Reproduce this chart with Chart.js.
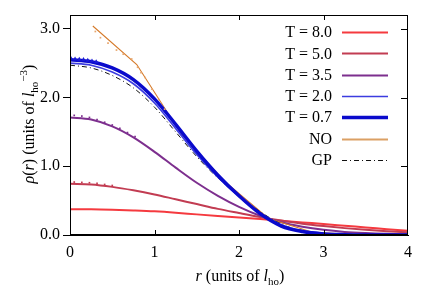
<!DOCTYPE html>
<html><head><meta charset="utf-8">
<script src="https://cdn.jsdelivr.net/npm/chart.js@4.4.1/dist/chart.umd.min.js"></script>
<style>html,body{margin:0;padding:0;background:#fff}canvas{display:block}</style>
</head><body>
<canvas id="c" width="436" height="305"></canvas>
<script>
// ---- data ----
const rGrid = [0,0.25,0.5,0.75,1.0,1.25,1.5,1.75,2.0,2.25,2.5,2.75,3.0,3.25,3.5,3.75,4.0];
const rhoT80 = [0.375,0.374,0.368,0.358,0.345,0.325,0.300,0.277,0.255,0.232,0.207,0.183,0.160,0.135,0.110,0.085,0.060];
const rhoT50 = [0.745,0.735,0.700,0.650,0.590,0.520,0.450,0.380,0.320,0.262,0.210,0.165,0.130,0.100,0.075,0.055,0.040];
const rhoT35 = [1.71,1.68,1.58,1.42,1.21,0.98,0.76,0.57,0.41,0.28,0.185,0.12,0.075,0.045,0.028,0.017,0.010];
const rhoT20 = [2.50,2.47,2.37,2.20,1.92,1.55,1.17,0.84,0.56,0.32,0.15,0.065,0.025,0.010,0.004,0.002,0.001];
const rhoT07 = [2.55,2.52,2.43,2.26,1.98,1.61,1.22,0.87,0.57,0.31,0.13,0.05,0.015,0.005,0.001,0.0,0.0];
const rhoGP  = [2.47,2.43,2.32,2.14,1.86,1.50,1.14,0.83,0.57,0.34,0.16,0.06,0.02,0.005,0.001,0.0,0.0];
const rNO   = [0.27,0.79,1.31,1.83,2.35,2.87,3.39,3.91];
const rhoNO = [3.04,2.48,1.48,0.78,0.24,0.04,0.005,0.0];
// simulation points (small markers)
const simNOr   = [0.30,0.36,0.45,0.55,0.63,0.73,0.80,0.84,0.89,0.97,1.05,1.12];
const simNOrho = [2.96,2.87,2.79,2.69,2.63,2.56,2.44,2.36,2.29,2.12,1.97,1.83];
const simT35r   = [0.05,0.14,0.23,0.32,0.41,0.50,0.59,0.68,0.77];
const simT35rho = [1.74,1.73,1.71,1.68,1.64,1.60,1.55,1.49,1.43];
const simT50r   = [0.05,0.14,0.23,0.32,0.41,0.50];
const simT50rho = [0.77,0.765,0.76,0.75,0.735,0.72];
const simT07r   = [0.01,0.06,0.11,0.16,0.21,0.26,0.31];
const simT07rho = [2.57,2.56,2.555,2.55,2.54,2.53,2.52];
const seriesLabels = ['T = 8.0','T = 5.0','T = 3.5','T = 2.0','T = 0.7','NO','GP'];
const xTickValues = [0,1,2,3,4];
const yTickValues = [0,1,2,3];

// ---- styles ----
const FONT = '"Liberation Serif","Times New Roman",serif';
const styles = {
  'T = 8.0': {color:'#f53a3f', width:2},
  'T = 5.0': {color:'#c23c52', width:2},
  'T = 3.5': {color:'#7d2f8e', width:2},
  'T = 2.0': {color:'#3c3ce0', width:1.6},
  'T = 0.7': {color:'#0a0acc', width:3.5},
  'NO':      {color:'#d57a2a', width:1.1, legendColor:'#dba064', legendWidth:2},
  'GP':      {color:'#111111', width:1, dash:[5,3,1,3]}
};
const pts = (xs, ys) => xs.map((x,i)=>({x:x, y:ys[i]}));
const seriesData = {
  'T = 8.0': pts(rGrid, rhoT80),
  'T = 5.0': pts(rGrid, rhoT50),
  'T = 3.5': pts(rGrid, rhoT35),
  'T = 2.0': pts(rGrid, rhoT20),
  'T = 0.7': pts(rGrid, rhoT07),
  'NO':      pts(rNO, rhoNO),
  'GP':      pts(rGrid, rhoGP)
};
const simSets = [
  {data: pts(simT07r, simT07rho), color:'#1a1ad6', style:'triangle', radius:2.6},
  {data: pts(simNOr, simNOrho), color:'#e8a66c', style:'rect', radius:1.2},
  {data: pts(simT35r, simT35rho), color:'#7d2f8e', style:'rect', radius:1.2},
  {data: pts(simT50r, simT50rho), color:'#c23c52', style:'rect', radius:1.2}
].map(s => ({label:'_sim', data:s.data, showLine:false, pointStyle:s.style, pointRadius:s.radius,
  pointBackgroundColor:s.color, pointBorderColor:s.color, pointBorderWidth:0}));

const drawOrder = ['T = 0.7','T = 2.0','GP','NO','T = 3.5','T = 5.0','T = 8.0'];
const lineSets = drawOrder.map(lab => {
  const s = styles[lab];
  return {
    label: lab, data: seriesData[lab], borderColor: s.color, backgroundColor: s.color,
    borderWidth: s.width, borderDash: s.dash || [], pointRadius: 0, showLine: true,
    fill: false, tension: lab === 'NO' ? 0 : 0.4, cubicInterpolationMode: lab==='NO' ? 'default' : 'monotone'
  };
});
const datasets = simSets.concat(lineSets);

function drawRich(ctx, segs, x, y) {
  let total = 0;
  const m = segs.map(s => {
    const size = (s.sub || s.sup) ? 11 : 16;
    const f = (s.it ? 'italic ' : '') + size + 'px ' + FONT;
    ctx.font = f; const w = ctx.measureText(s.t).width; total += w;
    return {f, w, dy: s.sub ? 4 : (s.sup ? -7 : 0), t: s.t};
  });
  let cx = x - total/2;
  ctx.fillStyle = '#000'; ctx.textBaseline = 'alphabetic'; ctx.textAlign = 'left';
  m.forEach(s => { ctx.font = s.f; ctx.fillText(s.t, cx, y + s.dy); cx += s.w; });
}

const decor = {
  id: 'decor',
  afterDraw(chart) {
    const ctx = chart.ctx, a = chart.chartArea, xs = chart.scales.x, ys = chart.scales.y;
    ctx.save();
    ctx.strokeStyle = '#000'; ctx.lineWidth = 1;
    ctx.strokeRect(Math.round(a.left)+0.5, Math.round(a.top)+0.5, Math.round(a.right-a.left)-1, Math.round(a.bottom-a.top)-1);
    ctx.beginPath();
    xTickValues.slice(1,-1).forEach(v => {
      const px = Math.round(xs.getPixelForValue(v)) + 0.5;
      ctx.moveTo(px, a.bottom); ctx.lineTo(px, a.bottom - 5);
      ctx.moveTo(px, a.top); ctx.lineTo(px, a.top + 5);
    });
    yTickValues.slice(1).forEach(v => {
      const py = Math.round(ys.getPixelForValue(v)) + 0.5;
      ctx.moveTo(a.right, py); ctx.lineTo(a.right - 7, py);
    });
    ctx.stroke();
    const rowY0 = 32, rowGap = 21.3, textRight = 332, l0 = 342, l1 = 388;
    ctx.font = '16px ' + FONT; ctx.textAlign = 'right'; ctx.textBaseline = 'middle'; ctx.fillStyle = '#000';
    seriesLabels.forEach((lab, i) => {
      const y = rowY0 + i * rowGap, s = styles[lab];
      ctx.fillText(lab, textRight, y + 1);
      ctx.beginPath(); ctx.strokeStyle = s.legendColor || s.color; ctx.lineWidth = s.legendWidth || s.width;
      ctx.setLineDash(s.dash || []); ctx.moveTo(l0, Math.round(y)+0.5); ctx.lineTo(l1, Math.round(y)+0.5); ctx.stroke();
      ctx.setLineDash([]);
    });
    drawRich(ctx, [{t:'r',it:true},{t:' (units of '},{t:'l',it:true},{t:'ho',sub:true},{t:')'}], 240, 281);
    ctx.translate(34, 124); ctx.rotate(-Math.PI/2);
    drawRich(ctx, [{t:'\u03C1',it:true},{t:'('},{t:'r',it:true},{t:') (units of '},{t:'l',it:true},{t:'ho',sub:true},{t:'\u22123',sup:true},{t:')'}], 0, 0);
    ctx.restore();
  }
};

new Chart(document.getElementById('c'), {
  type: 'scatter',
  data: { datasets },
  options: {
    responsive: false, devicePixelRatio: 1, animation: false,
    layout: { padding: { left: 0, top: 15, right: 28, bottom: 0 } },
    plugins: { legend: { display: false }, tooltip: { enabled: false } },
    scales: {
      x: {
        type: 'linear', min: 0, max: 4,
        afterFit: s => { s.height = 70; },
        afterBuildTicks: s => { s.ticks = xTickValues.map(v => ({value: v})); },
        ticks: { font: { family: FONT, size: 16 }, color: '#000', padding: 8, callback: v => String(v), maxRotation: 0 },
        grid: { display: true, drawOnChartArea: false, drawTicks: false },
        border: { display: true, color: '#000' }
      },
      y: {
        type: 'linear', min: 0, max: 3.2,
        afterFit: s => { s.width = 70; },
        afterBuildTicks: s => { s.ticks = yTickValues.map(v => ({value: v})); },
        ticks: { font: { family: FONT, size: 16 }, color: '#000', padding: 3, callback: v => v.toFixed(1) },
        grid: { display: true, drawOnChartArea: false, drawTicks: true, tickLength: 7, color: '#000' },
        border: { display: true, color: '#000' }
      }
    }
  },
  plugins: [decor]
});
</script>
</body></html>
